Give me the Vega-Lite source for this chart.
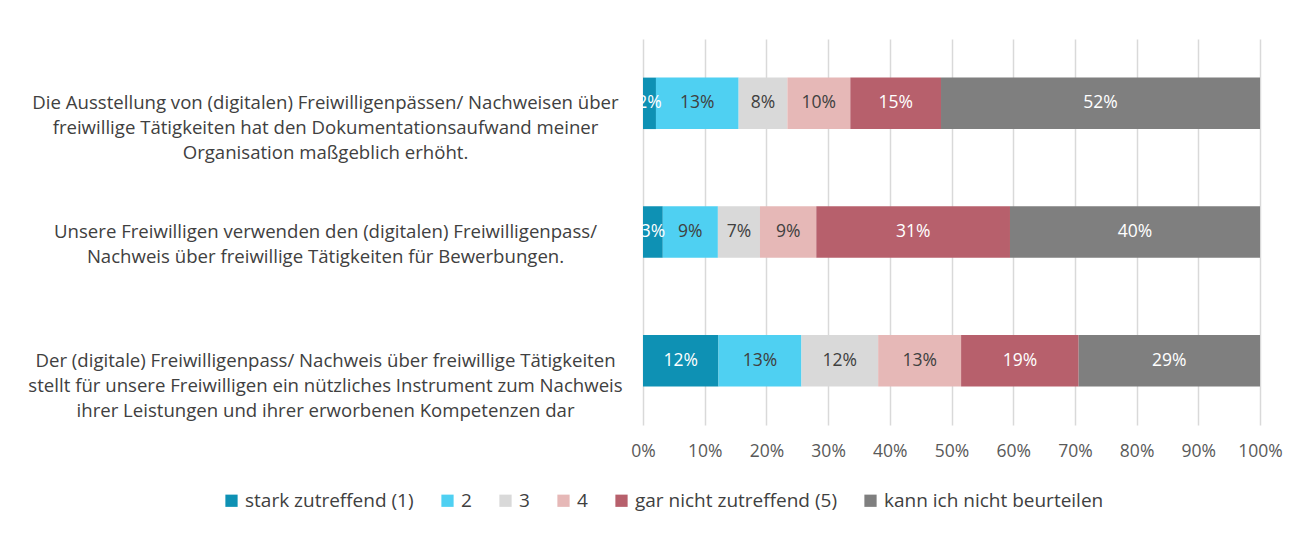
{
  "$schema": "https://vega.github.io/schema/vega-lite/v6.json",
  "width": 617,
  "height": 386,
  "autosize": {"type": "none"},
  "padding": {"left": 643, "top": 39, "right": 48, "bottom": 111},
  "background": "white",
  "config": {"view": {"stroke": null}, "font": "Open Sans"},
  "data": {
    "values": [
      {"q": "Die Ausstellung von (digitalen) Freiwilligenpässen/ Nachweisen über|freiwillige Tätigkeiten hat den Dokumentationsaufwand meiner|Organisation maßgeblich erhöht.", "cat": "stark zutreffend (1)", "o": 1, "v": 0.021},
      {"q": "Die Ausstellung von (digitalen) Freiwilligenpässen/ Nachweisen über|freiwillige Tätigkeiten hat den Dokumentationsaufwand meiner|Organisation maßgeblich erhöht.", "cat": "2", "o": 2, "v": 0.134},
      {"q": "Die Ausstellung von (digitalen) Freiwilligenpässen/ Nachweisen über|freiwillige Tätigkeiten hat den Dokumentationsaufwand meiner|Organisation maßgeblich erhöht.", "cat": "3", "o": 3, "v": 0.079},
      {"q": "Die Ausstellung von (digitalen) Freiwilligenpässen/ Nachweisen über|freiwillige Tätigkeiten hat den Dokumentationsaufwand meiner|Organisation maßgeblich erhöht.", "cat": "4", "o": 4, "v": 0.102},
      {"q": "Die Ausstellung von (digitalen) Freiwilligenpässen/ Nachweisen über|freiwillige Tätigkeiten hat den Dokumentationsaufwand meiner|Organisation maßgeblich erhöht.", "cat": "gar nicht zutreffend (5)", "o": 5, "v": 0.147},
      {"q": "Die Ausstellung von (digitalen) Freiwilligenpässen/ Nachweisen über|freiwillige Tätigkeiten hat den Dokumentationsaufwand meiner|Organisation maßgeblich erhöht.", "cat": "kann ich nicht beurteilen", "o": 6, "v": 0.517},
      {"q": "Unsere Freiwilligen verwenden den (digitalen) Freiwilligenpass/|Nachweis über freiwillige Tätigkeiten für Bewerbungen.", "cat": "stark zutreffend (1)", "o": 1, "v": 0.032},
      {"q": "Unsere Freiwilligen verwenden den (digitalen) Freiwilligenpass/|Nachweis über freiwillige Tätigkeiten für Bewerbungen.", "cat": "2", "o": 2, "v": 0.089},
      {"q": "Unsere Freiwilligen verwenden den (digitalen) Freiwilligenpass/|Nachweis über freiwillige Tätigkeiten für Bewerbungen.", "cat": "3", "o": 3, "v": 0.068},
      {"q": "Unsere Freiwilligen verwenden den (digitalen) Freiwilligenpass/|Nachweis über freiwillige Tätigkeiten für Bewerbungen.", "cat": "4", "o": 4, "v": 0.091},
      {"q": "Unsere Freiwilligen verwenden den (digitalen) Freiwilligenpass/|Nachweis über freiwillige Tätigkeiten für Bewerbungen.", "cat": "gar nicht zutreffend (5)", "o": 5, "v": 0.313},
      {"q": "Unsere Freiwilligen verwenden den (digitalen) Freiwilligenpass/|Nachweis über freiwillige Tätigkeiten für Bewerbungen.", "cat": "kann ich nicht beurteilen", "o": 6, "v": 0.404},
      {"q": "Der (digitale) Freiwilligenpass/ Nachweis über freiwillige Tätigkeiten|stellt für unsere Freiwilligen ein nützliches Instrument zum Nachweis|ihrer Leistungen und ihrer erworbenen Kompetenzen dar", "cat": "stark zutreffend (1)", "o": 1, "v": 0.122},
      {"q": "Der (digitale) Freiwilligenpass/ Nachweis über freiwillige Tätigkeiten|stellt für unsere Freiwilligen ein nützliches Instrument zum Nachweis|ihrer Leistungen und ihrer erworbenen Kompetenzen dar", "cat": "2", "o": 2, "v": 0.134},
      {"q": "Der (digitale) Freiwilligenpass/ Nachweis über freiwillige Tätigkeiten|stellt für unsere Freiwilligen ein nützliches Instrument zum Nachweis|ihrer Leistungen und ihrer erworbenen Kompetenzen dar", "cat": "3", "o": 3, "v": 0.124},
      {"q": "Der (digitale) Freiwilligenpass/ Nachweis über freiwillige Tätigkeiten|stellt für unsere Freiwilligen ein nützliches Instrument zum Nachweis|ihrer Leistungen und ihrer erworbenen Kompetenzen dar", "cat": "4", "o": 4, "v": 0.134},
      {"q": "Der (digitale) Freiwilligenpass/ Nachweis über freiwillige Tätigkeiten|stellt für unsere Freiwilligen ein nützliches Instrument zum Nachweis|ihrer Leistungen und ihrer erworbenen Kompetenzen dar", "cat": "gar nicht zutreffend (5)", "o": 5, "v": 0.190},
      {"q": "Der (digitale) Freiwilligenpass/ Nachweis über freiwillige Tätigkeiten|stellt für unsere Freiwilligen ein nützliches Instrument zum Nachweis|ihrer Leistungen und ihrer erworbenen Kompetenzen dar", "cat": "kann ich nicht beurteilen", "o": 6, "v": 0.293}
    ]
  },
  "transform": [
    {"stack": "v", "groupby": ["q"], "offset": "normalize", "sort": [{"field": "o", "order": "ascending"}], "as": ["v0", "v1"]},
    {"calculate": "(datum.v0 + datum.v1) / 2", "as": "mid"}
  ],
  "encoding": {
    "y": {
      "field": "q",
      "type": "nominal",
      "sort": null,
      "scale": {"paddingInner": 0.6, "paddingOuter": 0.3},
      "axis": {
        "title": null,
        "labelExpr": "split(datum.value, '|')",
        "labelAlign": "center",
        "labelBaseline": "middle",
        "labelPadding": 318,
        "labelLineHeight": 25,
        "labelFontSize": 18.6,
        "labelFont": "Open Sans",
        "labelColor": "#404040",
        "labelLimit": 700,
        "ticks": false,
        "domain": false
      }
    }
  },
  "layer": [
    {
      "mark": {"type": "bar"},
      "encoding": {
        "x": {
          "field": "v0",
          "type": "quantitative",
          "scale": {"domain": [0, 1], "nice": false},
          "axis": {
            "title": null,
            "values": [0, 0.1, 0.2, 0.3, 0.4, 0.5, 0.6, 0.7, 0.8, 0.9, 1],
            "format": ".0%",
            "labelFontSize": 17.5,
            "labelFont": "Open Sans",
            "labelColor": "#595959",
            "labelPadding": 17,
            "labelFlush": false,
            "labelOverlap": false,
            "ticks": false,
            "domain": false,
            "grid": true,
            "gridColor": "#d9d9d9",
            "gridWidth": 1.5
          }
        },
        "x2": {"field": "v1"},
        "color": {
          "field": "cat",
          "type": "nominal",
          "sort": ["stark zutreffend (1)", "2", "3", "4", "gar nicht zutreffend (5)", "kann ich nicht beurteilen"],
          "scale": {
            "domain": ["stark zutreffend (1)", "2", "3", "4", "gar nicht zutreffend (5)", "kann ich nicht beurteilen"],
            "range": ["#0e91b4", "#4fd0f2", "#d9d9d9", "#e6b8b7", "#b7606c", "#7f7f7f"]
          },
          "legend": {
            "title": null,
            "orient": "none",
            "direction": "horizontal",
            "columns": 6,
            "legendX": -421,
            "legendY": 452,
            "symbolType": "square",
            "symbolSize": 150,
            "symbolStrokeWidth": 0,
            "labelFontSize": 19,
            "labelFont": "Open Sans",
            "labelColor": "#404040",
            "labelOffset": 4,
            "labelLimit": 400,
            "columnPadding": 24,
            "padding": 0
          }
        }
      }
    },
    {
      "mark": {"type": "text", "fontSize": 17.5, "font": "Open Sans", "baseline": "middle", "align": "center"},
      "encoding": {
        "x": {"field": "mid", "type": "quantitative"},
        "text": {"field": "v", "type": "quantitative", "format": ".0%"},
        "color": {
          "condition": {"test": "datum.o == 2 || datum.o == 3 || datum.o == 4", "value": "#404040"},
          "value": "white"
        }
      }
    }
  ]
}
